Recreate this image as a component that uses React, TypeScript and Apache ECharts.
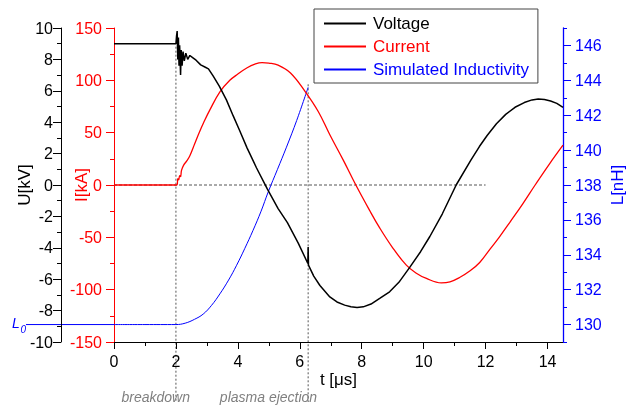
import React, { useEffect, useRef } from "react";
import * as echarts from "echarts";

const FONT = "'Liberation Sans', Arial, Helvetica, sans-serif";

// Voltage U [kV] vs t [µs]
const voltageTime = [
  0, 1, 2.0, 2.02, 2.04, 2.06, 2.08, 2.1, 2.12, 2.15, 2.17, 2.2, 2.23, 2.27, 2.32, 2.38, 2.45, 2.55, 2.65, 2.8,
  2.95, 3.05, 3.2, 3.4, 3.63, 3.85, 4.05, 4.3, 4.6, 4.95, 5.3, 5.6, 5.95, 6.26, 6.27, 6.28, 6.45, 6.65, 6.97,
  7.2, 7.45, 7.65, 7.85, 8.05, 8.3, 8.58, 8.9, 9.2, 9.55, 9.9, 10.2, 10.6, 11.05, 11.53, 11.8, 12.05, 12.35,
  12.65, 12.95, 13.25, 13.5, 13.7, 13.9, 14.1, 14.3, 14.5,
];
const voltageKV = [
  9.0, 9.0, 9.0, 9.5, 9.8, 8.0, 9.4, 7.6, 8.9, 7.0, 8.6, 7.6, 8.5, 7.9, 8.4, 8.0, 8.25, 8.1, 7.95, 7.65,
  7.5, 7.4, 6.95, 6.3, 5.42, 4.4, 3.5, 2.35, 1.1, -0.25, -1.5, -2.4, -3.7, -5.0, -3.95, -5.1, -5.8, -6.4, -7.13,
  -7.45, -7.65, -7.76, -7.8, -7.76, -7.58, -7.22, -6.8, -6.2, -5.25, -4.25, -3.28, -1.85, 0, 1.6, 2.45, 3.15, 3.9,
  4.5, 4.95, 5.25, 5.42, 5.48, 5.45, 5.35, 5.2, 4.95,
];

// Current I [kA]
const currentTime = [
  0, 1, 2.0, 2.04, 2.06, 2.09, 2.12, 2.15, 2.18, 2.25, 2.35, 2.45, 2.6, 2.75, 2.9, 3.1, 3.42, 3.74, 4.0, 4.3,
  4.55, 4.78, 5.0, 5.3, 5.7, 6.18, 6.6, 6.97, 7.4, 7.81, 8.25, 8.58, 9.0, 9.44, 9.75, 10.09, 10.57, 10.85, 11.16,
  11.5, 11.81, 12.15, 12.45, 12.8, 13.2, 13.6, 14.06, 14.5,
];
const currentKA = [
  0, 0, 0, 0.5, 6, 5, 9, 8, 14, 19, 23, 28, 39, 50, 60, 72, 89, 100, 106, 112,
  115.5, 117, 116.5, 114.5, 107, 89, 70, 48, 24, 0, -24, -41, -60, -76.6, -84, -89.3, -93.5, -92.5, -88.4,
  -82, -74, -61, -49.5, -35, -18, 0, 20, 38,
];

// Simulated inductivity L [nH]
const inductTime = [0, 1, 2.0, 2.3, 2.6, 2.88, 3.15, 3.42, 3.7, 3.96, 4.22, 4.49, 4.75, 4.98, 5.28, 5.57, 5.9, 6.27];
const inductNH = [
  130, 130, 130, 130.08, 130.3, 130.6, 131.1, 131.76, 132.55, 133.4, 134.35, 135.4, 136.5, 137.6, 138.9, 140.17,
  141.7, 143.6,
];

const zeroLineTime = [0, 12];
const zeroLineValue = [0, 0];

const uRange = [-10, 10];
const iRange = [-150, 150];
const lRange = [129, 147];
const tRange = [0, 14.5];
const tMajorTicks = [0, 2, 4, 6, 8, 10, 12, 14];
const tMinorTicks = [1, 3, 5, 7, 9, 11, 13];
const lMajorTicks = [130, 132, 134, 136, 138, 140, 142, 144, 146];
const lMinorTicks = [129, 131, 133, 135, 137, 139, 141, 143, 145, 147];
const eventTimes = [2, 6.27];
const eventLabels = ["breakdown", "plasma ejection"];
const L0_VALUE = 130;

const zip = (a: number[], b: number[]) => a.map((v, i) => [v, b[i]]);

export default function App() {
  const ref = useRef<HTMLDivElement>(null);
  useEffect(() => {
    const chart = echarts.init(ref.current!, null, { renderer: "svg" });
    const BLUE = "#0000ff";
    const RED = "#ff0000";
    const option: any = {
      animation: false,
      textStyle: { fontFamily: FONT },
      grid: { left: 114, right: 79, top: 28, bottom: 64, outerBoundsMode: "none" },
      legend: {
        orient: "vertical",
        left: 314,
        top: 9,
        padding: [6, 9, 5, 9],
        itemGap: 6,
        itemWidth: 42,
        itemHeight: 14,
        borderColor: "#444",
        borderWidth: 1,
        itemStyle: { opacity: 0 },
        textStyle: { fontSize: 17, fontFamily: FONT, padding: [0, 0, 0, 2] },
        data: [
          { name: "Voltage", textStyle: { color: "#000" } },
          { name: "Current", textStyle: { color: RED } },
          { name: "Simulated Inductivity", textStyle: { color: BLUE } },
        ],
      },
      xAxis: [
        {
          type: "value",
          min: tRange[0],
          max: tRange[1],
          position: "bottom",
          name: "t [μs]",
          nameLocation: "middle",
          nameGap: 29,
          nameMoveOverlap: false,
          nameTextStyle: { fontSize: 17, color: "#000", fontFamily: FONT },
          axisLine: { show: true, onZero: false, lineStyle: { color: "#000", width: 1 } },
          axisTick: { show: true, length: 7, customValues: tMajorTicks, lineStyle: { color: "#000" } },
          axisLabel: { customValues: tMajorTicks, fontSize: 16, color: "#000", margin: 11, fontFamily: FONT },
          splitLine: { show: false },
        },
        {
          type: "value",
          min: tRange[0],
          max: tRange[1],
          position: "bottom",
          offset: 0,
          axisLine: { show: false, onZero: false },
          axisTick: { show: true, length: 4, customValues: tMinorTicks, lineStyle: { color: "#000" } },
          axisLabel: { show: false },
          splitLine: { show: false },
        },
      ],
      yAxis: [
        {
          type: "value",
          min: uRange[0],
          max: uRange[1],
          interval: 2,
          position: "left",
          offset: 53,
          name: "U[kV]",
          nameLocation: "middle",
          nameGap: 28,
          nameMoveOverlap: false,
          nameTextStyle: { fontSize: 17, color: "#000", fontFamily: FONT },
          axisLine: { show: true, onZero: false, lineStyle: { color: "#000", width: 1 } },
          axisTick: { show: true, length: 8, lineStyle: { color: "#000" } },
          minorTick: { show: true, splitNumber: 2, length: 4, lineStyle: { color: "#000" } },
          axisLabel: { fontSize: 16, color: "#000", margin: 8, fontFamily: FONT },
          splitLine: { show: false },
        },
        {
          type: "value",
          min: iRange[0],
          max: iRange[1],
          interval: 50,
          position: "left",
          offset: 0,
          name: "I[kA]",
          nameLocation: "middle",
          nameGap: 24,
          nameMoveOverlap: false,
          nameTextStyle: { fontSize: 17, color: RED, fontFamily: FONT },
          axisLine: { show: true, onZero: false, lineStyle: { color: RED, width: 1 } },
          axisTick: { show: true, length: 8, lineStyle: { color: RED } },
          minorTick: { show: true, splitNumber: 2, length: 4, lineStyle: { color: RED } },
          axisLabel: { fontSize: 16, color: RED, margin: 12, fontFamily: FONT },
          splitLine: { show: false },
        },
        {
          type: "value",
          min: lRange[0],
          max: lRange[1],
          position: "right",
          offset: 0,
          name: "L[nH]",
          nameLocation: "middle",
          nameGap: 46,
          nameMoveOverlap: false,
          nameTextStyle: { fontSize: 17, color: BLUE, fontFamily: FONT },
          axisLine: { show: true, onZero: false, lineStyle: { color: BLUE, width: 1.3 } },
          axisTick: { show: true, length: 8, customValues: lMajorTicks, lineStyle: { color: BLUE } },
          axisLabel: { customValues: lMajorTicks, fontSize: 16, color: BLUE, margin: 12, fontFamily: FONT },
          splitLine: { show: false },
        },
        {
          type: "value",
          min: lRange[0],
          max: lRange[1],
          position: "right",
          offset: 0,
          axisLine: { show: false, onZero: false },
          axisTick: { show: true, length: 4, customValues: lMinorTicks, lineStyle: { color: BLUE } },
          axisLabel: { show: false },
          splitLine: { show: false },
        },
      ],
      series: [
        {
          name: "zero",
          type: "line",
          xAxisIndex: 0,
          yAxisIndex: 0,
          data: zip(zeroLineTime, zeroLineValue),
          symbol: "none",
          silent: true,
          lineStyle: { color: "#555", width: 1, type: [3, 2] },
        },
        {
          name: "Simulated Inductivity",
          type: "line",
          xAxisIndex: 0,
          yAxisIndex: 2,
          data: zip(inductTime, inductNH),
          symbol: "none",
          smooth: 0.4,
          color: BLUE,
          lineStyle: { color: BLUE, width: 1 },
        },
        {
          name: "Current",
          type: "line",
          xAxisIndex: 0,
          yAxisIndex: 1,
          data: zip(currentTime, currentKA),
          symbol: "none",
          smooth: 0.4,
          color: RED,
          lineStyle: { color: RED, width: 1.3 },
        },
        {
          name: "Voltage",
          type: "line",
          xAxisIndex: 0,
          yAxisIndex: 0,
          data: zip(voltageTime, voltageKV),
          symbol: "none",
          smooth: false,
          color: "#000",
          lineStyle: { color: "#000", width: 1.5 },
        },
      ],
    };
    chart.setOption(option);

    const px = (t: number) => chart.convertToPixel({ xAxisIndex: 0 }, t) as number;
    const pyU = (v: number) => chart.convertToPixel({ yAxisIndex: 0 }, v) as number;
    const pyL = (v: number) => chart.convertToPixel({ yAxisIndex: 2 }, v) as number;

    const xB = px(eventTimes[0]);
    const xP = px(eventTimes[1]);
    const yL0 = pyL(L0_VALUE);
    const x0 = px(tRange[0]);
    const bottomY = 402;
    const graphic: any[] = [
      {
        type: "line",
        silent: true,
        shape: { x1: xB, y1: pyU(voltageKV[0]) + 3, x2: xB, y2: bottomY },
        style: { stroke: "#555", lineWidth: 1, lineDash: [2, 2] },
      },
      {
        type: "line",
        silent: true,
        shape: { x1: xP, y1: pyL(inductNH[inductNH.length - 1]) - 3, x2: xP, y2: bottomY },
        style: { stroke: "#555", lineWidth: 1, lineDash: [2, 2] },
      },
      {
        type: "text",
        silent: true,
        x: xB + 14,
        y: 397,
        style: {
          text: eventLabels[0],
          fill: "#808080",
          font: `italic 14px ${FONT}`,
          align: "right",
          verticalAlign: "middle",
        },
      },
      {
        type: "text",
        silent: true,
        x: xP + 9,
        y: 397,
        style: {
          text: eventLabels[1],
          fill: "#808080",
          font: `italic 14px ${FONT}`,
          align: "right",
          verticalAlign: "middle",
        },
      },
      {
        type: "line",
        silent: true,
        shape: { x1: 26, y1: yL0, x2: x0, y2: yL0 },
        style: { stroke: BLUE, lineWidth: 1 },
      },
      {
        type: "text",
        silent: true,
        x: 12,
        y: yL0 - 2,
        style: { text: "L", fill: BLUE, font: `italic 14px ${FONT}`, align: "left", verticalAlign: "middle" },
      },
      {
        type: "text",
        silent: true,
        x: 20.5,
        y: yL0 + 5,
        style: { text: "0", fill: BLUE, font: `italic 10px ${FONT}`, align: "left", verticalAlign: "middle" },
      },
    ];
    chart.setOption({ graphic });

    return () => chart.dispose();
  }, []);
  return <div ref={ref} style={{ position: "fixed", left: 0, top: 0, width: 642, height: 406 }} />;
}
